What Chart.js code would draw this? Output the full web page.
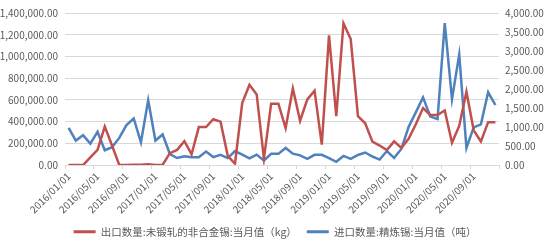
<!DOCTYPE html>
<html>
<head>
<meta charset="utf-8">
<script src="https://cdn.jsdelivr.net/npm/chart.js@4"></script>
<style>
  html, body { margin: 0; padding: 0; background: #fff; }
  #wrap { width: 550px; height: 247px; position: relative; }
</style>
</head>
<body>
<div id="wrap"><canvas id="chartEstano"></canvas></div>
<script>
const meses = [
  "2016/01/01", "2016/02/01", "2016/03/01", "2016/04/01", "2016/05/01", "2016/06/01",
  "2016/07/01", "2016/08/01", "2016/09/01", "2016/10/01", "2016/11/01", "2016/12/01",
  "2017/01/01", "2017/02/01", "2017/03/01", "2017/04/01", "2017/05/01", "2017/06/01",
  "2017/07/01", "2017/08/01", "2017/09/01", "2017/10/01", "2017/11/01", "2017/12/01",
  "2018/01/01", "2018/02/01", "2018/03/01", "2018/04/01", "2018/05/01", "2018/06/01",
  "2018/07/01", "2018/08/01", "2018/09/01", "2018/10/01", "2018/11/01", "2018/12/01",
  "2019/01/01", "2019/02/01", "2019/03/01", "2019/04/01", "2019/05/01", "2019/06/01",
  "2019/07/01", "2019/08/01", "2019/09/01", "2019/10/01", "2019/11/01", "2019/12/01",
  "2020/01/01", "2020/02/01", "2020/03/01", "2020/04/01", "2020/05/01", "2020/06/01",
  "2020/07/01", "2020/08/01", "2020/09/01", "2020/10/01", "2020/11/01", "2020/12/01"
];

// 出口数量 (kg), eje izquierdo
const exportKg = [
  0, 0, 0, 70000, 140000, 355000, 180000, 2000, 1000, 2000, 3000, 8000,
  1000, 3000, 110000, 140000, 220000, 100000, 350000, 350000, 422000, 400000, 85000, 12000,
  570000, 740000, 650000, 60000, 565000, 565000, 340000, 705000, 408000, 605000, 685000, 188000,
  1195000, 450000, 1305000, 1160000, 450000, 385000, 215000, 180000, 138000, 218000, 157000, 242000,
  375000, 525000, 462000, 460000, 502000, 205000, 360000, 675000, 320000, 218000, 395000, 395000
];

// 进口数量 (吨), eje derecho
const importTon = [
  980, 645, 785, 565, 875, 390, 470, 715, 1050, 1225, 600, 1705,
  645, 805, 290, 185, 232, 205, 205, 355, 210, 270, 185, 370,
  275, 175, 275, 120, 295, 295, 450, 300, 255, 165, 270, 270,
  185, 85, 240, 165, 265, 330, 225, 145, 370, 190, 425, 1000,
  1385, 1780, 1280, 1210, 3735, 1730, 2905, 450, 990, 1070, 1915, 1580
];

const ejeIzq = { min: 0, max: 1400000, paso: 200000 };
const ejeDer = { min: 0, max: 4000, paso: 500 };

const nombres = ["出口数量:未锻轧的非合金锡:当月值（kg）", "进口数量:精炼锡:当月值（吨）"];

const fmt = v => Number(v).toLocaleString("en-US", { minimumFractionDigits: 2, maximumFractionDigits: 2 });
const gris = "#595959";
const fuente = { family: "'Noto Sans CJK SC', 'Noto Sans', sans-serif", size: 10 };

new Chart(document.getElementById("chartEstano"), {
  type: "line",
  data: {
    labels: meses,
    datasets: [
      {
        label: nombres[0],
        data: exportKg,
        yAxisID: "y",
        borderColor: "#c0504d",
        backgroundColor: "#c0504d",
        borderWidth: 2.5,
        pointRadius: 0,
        tension: 0
      },
      {
        label: nombres[1],
        data: importTon,
        yAxisID: "y1",
        borderColor: "#4f81bd",
        backgroundColor: "#4f81bd",
        borderWidth: 2.5,
        pointRadius: 0,
        tension: 0
      }
    ]
  },
  options: {
    responsive: true,
    maintainAspectRatio: false,
    animation: false,
    layout: { padding: { top: 10, left: 0, right: 0, bottom: 0 } },
    plugins: {
      tooltip: { enabled: false },
      legend: {
        position: "bottom",
        labels: {
          boxWidth: 22,
          boxHeight: 3,
          padding: 10,
          color: gris,
          font: { ...fuente, size: 10.5 },
          generateLabels: chart => {
            const items = Chart.defaults.plugins.legend.labels.generateLabels(chart);
            items.forEach(item => { item.lineWidth = 0; });
            return items;
          }
        }
      }
    },
    scales: {
      x: {
        offset: true,
        border: { color: "#d9d9d9" },
        grid: {
          offset: true,
          drawOnChartArea: false,
          tickLength: 4,
          tickColor: ctx => (ctx.index === undefined || ctx.index % 4 === 0) ? "#d9d9d9" : "rgba(0,0,0,0)"
        },
        ticks: {
          autoSkip: false,
          maxRotation: 45,
          minRotation: 45,
          padding: 1,
          color: gris,
          font: fuente,
          callback: function (value, index) {
            return index % 4 === 0 ? this.getLabelForValue(value) : "";
          }
        }
      },
      y: {
        position: "left",
        min: ejeIzq.min,
        max: ejeIzq.max,
        border: { display: false },
        grid: { color: "#d9d9d9", drawTicks: false },
        ticks: { stepSize: ejeIzq.paso, padding: 7, color: gris, font: fuente, callback: fmt },
        afterFit: scale => { scale.width = 65; }
      },
      y1: {
        position: "right",
        min: ejeDer.min,
        max: ejeDer.max,
        border: { display: false },
        grid: { drawOnChartArea: false, drawTicks: false },
        ticks: { stepSize: ejeDer.paso, padding: 6, color: gris, font: fuente, callback: fmt },
        afterFit: scale => { scale.width = 51; }
      }
    }
  }
});
</script>
</body>
</html>
